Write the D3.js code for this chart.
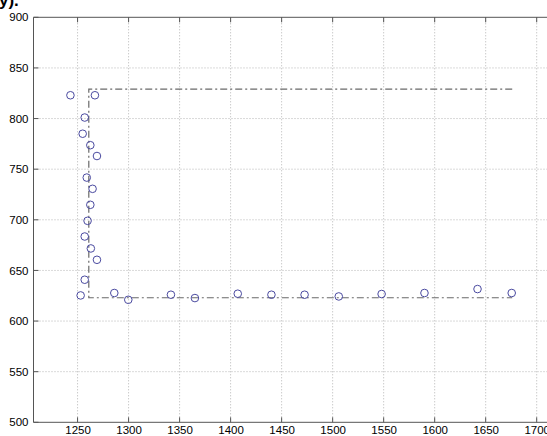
<!DOCTYPE html>
<html><head><meta charset="utf-8">
<script src="https://cdn.jsdelivr.net/npm/d3@7"></script>
<style>
html,body{margin:0;padding:0;background:#fff;overflow:hidden;}
svg{display:block;font-family:"Liberation Sans",Arial,sans-serif;}
</style></head>
<body>
<script>
const xTicks = [1250,1300,1350,1400,1450,1500,1550,1600,1650,1700];
const yTicks = [500,550,600,650,700,750,800,850,900];
const pointX = [1243,1267,1257,1255,1262.5,1269,1259,1264.7,1262.5,1259.8,1257,1263,1269,1257,1253,1286,1299.7,1341.5,1365,1407,1440,1472.5,1506,1548,1590,1642,1675.5];
const pointY = [823,823,801,785,773.7,763,741.7,730.6,714.8,699,683.5,671.7,660.5,640.8,625.3,627.7,621,626,622.7,627,626,626,624.3,626.7,627.7,631.6,627.7];
const pathX = [1676,1261,1261,1676];
const pathY = [829,829,623,623];

(function(){
const W=547,H=436;
const svg=d3.select("body").append("svg").attr("width",W).attr("height",H);
const mLeft=33.5, mTop=17.3, mBottom=422.3;
const x=d3.scaleLinear().domain([1206.8,1700]).range([mLeft,536.7]);
const y=d3.scaleLinear().domain([500,900]).range([mBottom,mTop]);
const mRight=W+5;
const fmt=d3.format("d");

// grid
const g=svg.append("g");
g.selectAll(".gx").data(xTicks).enter().append("line")
 .attr("x1",d=>x(d)).attr("x2",d=>x(d)).attr("y1",mTop).attr("y2",mBottom)
 .attr("stroke","#b4b4b4").attr("stroke-width",1).attr("stroke-dasharray","1,2");
g.selectAll(".gy").data(yTicks.filter(d=>d>500&&d<900)).enter().append("line")
 .attr("x1",mLeft).attr("x2",mRight).attr("y1",d=>y(d)).attr("y2",d=>y(d))
 .attr("stroke","#b4b4b4").attr("stroke-width",1).attr("stroke-dasharray","1,2");

// frame
svg.append("line").attr("x1",mLeft).attr("x2",mRight).attr("y1",mTop).attr("y2",mTop).attr("stroke","#555");
svg.append("line").attr("x1",mLeft).attr("x2",mRight).attr("y1",mBottom).attr("y2",mBottom).attr("stroke","#555");
svg.append("line").attr("x1",mLeft).attr("x2",mLeft).attr("y1",mTop).attr("y2",mBottom).attr("stroke","#555");

// axes
const xa=d3.axisBottom(x).tickValues(xTicks).tickFormat(fmt).tickSize(0).tickPadding(4);
const xg=svg.append("g").attr("transform",`translate(0,${mBottom})`).call(xa);
xg.select(".domain").remove();
xg.selectAll("text").attr("font-size",11.5).attr("fill","#000").attr("font-family","Liberation Sans, Arial, sans-serif");
const ya=d3.axisLeft(y).tickValues(yTicks).tickFormat(fmt).tickSize(0).tickPadding(5);
const yg=svg.append("g").attr("transform",`translate(${mLeft},0)`).call(ya);
yg.select(".domain").remove();
yg.selectAll("text").attr("font-size",11.5).attr("fill","#000").attr("font-family","Liberation Sans, Arial, sans-serif");
// inward tick marks
const tk=svg.append("g").attr("stroke","#555");
xTicks.forEach(t=>{
  tk.append("line").attr("x1",x(t)).attr("x2",x(t)).attr("y1",mBottom).attr("y2",mBottom-5);
  tk.append("line").attr("x1",x(t)).attr("x2",x(t)).attr("y1",mTop).attr("y2",mTop+5);
});
yTicks.forEach(t=>{
  tk.append("line").attr("x1",mLeft).attr("x2",mLeft+5).attr("y1",y(t)).attr("y2",y(t));
});

// dash-dot path
const lineGen=d3.line().x(d=>x(d[0])).y(d=>y(d[1]));
svg.append("path").datum(pathX.map((v,i)=>[v,pathY[i]])).attr("d",lineGen)
 .attr("fill","none").attr("stroke","#6a6a6a").attr("stroke-width",1.2).attr("stroke-dasharray","7,3,2,3");

// points
svg.selectAll(".pt").data(pointX.map((v,i)=>[v,pointY[i]])).enter().append("circle")
 .attr("cx",d=>x(d[0])).attr("cy",d=>y(d[1])).attr("r",3.8)
 .attr("fill","none").attr("stroke","#4a4aa0").attr("stroke-width",1);

// title fragment, cut off by the top edge as in the reference
svg.append("text").attr("x",-1).attr("y",6).attr("font-size",17).attr("font-weight","bold")
 .attr("font-family","Liberation Sans, Arial, sans-serif").text("y).");
})();
</script>
</body></html>
